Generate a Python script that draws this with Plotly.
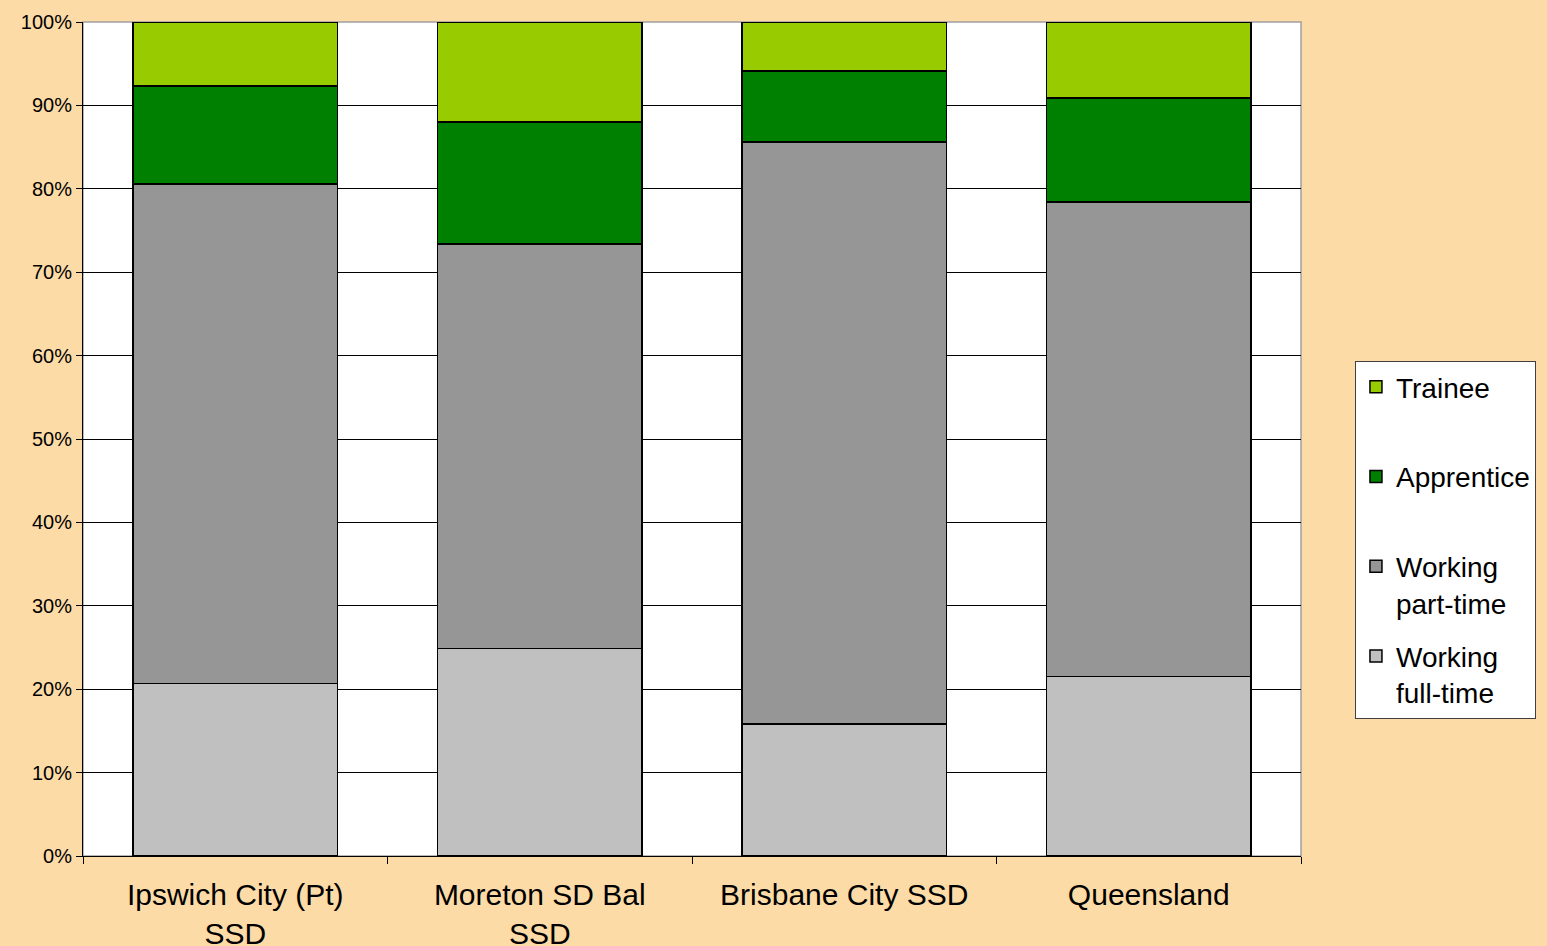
import plotly.graph_objects as go

# Regions shown along the x axis
regions = ['Ipswich City (Pt)<br>SSD', 'Moreton SD Bal<br>SSD', 'Brisbane City SSD', 'Queensland']

# Share of each group (%)
full_time = [20.7, 24.9, 15.8, 21.5]
part_time = [59.9, 48.5, 69.8, 56.9]
apprentice = [11.7, 14.6, 8.5, 12.5]
trainee = [7.7, 12.0, 5.9, 9.1]

series = [
    ('Working<br>full-time', full_time, '#C0C0C0', 4),
    ('Working<br>part-time', part_time, '#969696', 3),
    ('Apprentice<br>\u00a0', apprentice, '#008000', 2),
    ('Trainee<br>\u00a0', trainee, '#99CC00', 1),
]

fig = go.Figure()
for name, vals, col, rank in series:
    fig.add_trace(go.Bar(
        x=regions, y=vals, name=name, legendgroup=name, legendrank=rank,
        marker=dict(color=col, line=dict(color='black', width=1.5)),
    ))

fig.update_layout(
    barmode='stack',
    bargap=0.327,
    width=1547, height=946,
    margin=dict(l=83, r=246, t=22, b=90, autoexpand=False),
    paper_bgcolor='#FDDBA7',
    plot_bgcolor='white',
    font=dict(family='Liberation Sans, Arial, sans-serif', color='black'),
    legend=dict(
        x=1.0443, y=0.5935, xanchor='left', yanchor='top',
        traceorder='grouped', tracegroupgap=14,
        font=dict(size=28), valign='top',
        bgcolor='white', bordercolor='#404040', borderwidth=1,
    ),
    shapes=[dict(type='rect', xref='paper', yref='paper', x0=0, x1=1, y0=0, y1=1,
                 line=dict(color='#A0A0A0', width=1.5), layer='below')],
)

fig.update_xaxes(
    showline=True, linecolor='black', linewidth=1,
    ticks='outside', tickson='boundaries', ticklen=7, tickcolor='black',
    tickfont=dict(size=30), ticklabelstandoff=12,
)
fig.update_yaxes(
    range=[0, 100], dtick=10, ticksuffix='%',
    showgrid=True, gridcolor='black', gridwidth=1,
    showline=True, linecolor='black', linewidth=1,
    ticks='outside', ticklen=6, tickcolor='black',
    tickfont=dict(size=20), zeroline=False,
)

fig.write_html("out.html", config={'displayModeBar': False},
               post_script="document.body.style.margin='0';")
